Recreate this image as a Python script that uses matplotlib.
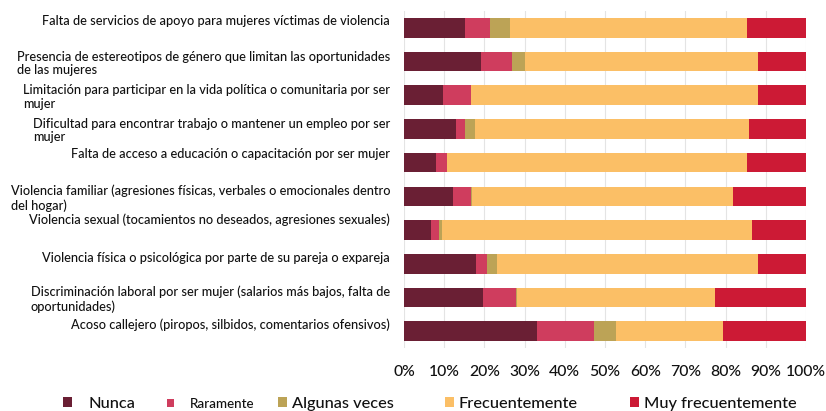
import matplotlib
matplotlib.use("Agg")
import matplotlib.pyplot as plt
from matplotlib.patches import Patch
from matplotlib.transforms import ScaledTranslation
import numpy as np

plt.rcParams['font.family'] = ['Lato', 'DejaVu Sans']
plt.rcParams['font.weight'] = 'medium'

categories = [
    "Falta de servicios de apoyo para mujeres víctimas de violencia",
    "Presencia de estereotipos de género que limitan las oportunidades\nde las mujeres",
    "Limitación para participar en la vida política o comunitaria por ser\nmujer",
    "Dificultad para encontrar trabajo o mantener un empleo por ser\nmujer",
    "Falta de acceso a educación o capacitación por ser mujer",
    "Violencia familiar (agresiones físicas, verbales o emocionales dentro\ndel hogar)",
    "Violencia sexual (tocamientos no deseados, agresiones sexuales)",
    "Violencia física o psicológica por parte de su pareja o expareja",
    "Discriminación laboral por ser mujer (salarios más bajos, falta de\noportunidades)",
    "Acoso callejero (piropos, silbidos, comentarios ofensivos)",
]

series_names = ["Nunca", "Raramente", "Algunas veces", "Frecuentemente", "Muy frecuentemente"]
nunca          = [15.1, 19.2,  9.7, 13.0,  8.0, 12.2,  6.6, 17.8, 19.7, 33.1]
raramente      = [ 6.2,  7.7,  6.9,  2.1,  2.8,  4.4,  2.1,  2.8,  8.1, 14.2]
algunas_veces  = [ 5.0,  3.3,  0.0,  2.6,  0.0,  0.3,  0.7,  2.6,  0.3,  5.5]
frecuentemente = [59.0, 57.8, 71.4, 68.2, 74.5, 65.0, 77.1, 64.8, 49.3, 26.5]
muy_frecuente  = [14.7, 12.0, 12.0, 14.1, 14.7, 18.1, 13.5, 12.0, 22.6, 20.7]
x_ticks = [0, 10, 20, 30, 40, 50, 60, 70, 80, 90, 100]
x_tick_labels = ["0%", "10%", "20%", "30%", "40%", "50%", "60%", "70%", "80%", "90%", "100%"]

colors = ["#6a1f34", "#cf3d5e", "#bca356", "#fbbf66", "#cc1a35"]
text_color = "#111111"

fig = plt.figure(figsize=(8.26, 4.11), dpi=100)
ax = fig.add_axes([404/826, 1 - 348/411, 402/826, 337/411])

y = np.arange(len(categories))
left = np.zeros(len(categories))
for vals, col, name in zip([nunca, raramente, algunas_veces, frecuentemente, muy_frecuente], colors, series_names):
    ax.barh(y, vals, left=left, height=0.58, color=col, label=name, zorder=3)
    left += np.array(vals)

ax.set_xlim(0, 100)
ax.set_ylim(len(categories) - 0.5, -0.5)
ax.set_xticks(x_ticks)
ax.set_xticklabels(x_tick_labels, fontsize=11.3, color=text_color)
ax.set_yticks(y)
ax.set_yticklabels(categories, fontsize=9.2, color=text_color, multialignment='left',
                   linespacing=1.15)
ax.tick_params(axis='both', length=0)
ax.tick_params(axis='y', pad=10)
ax.tick_params(axis='x', pad=12)
ax.grid(axis='x', color="#e4e4e4", linewidth=0.8, zorder=0)
for s in ax.spines.values():
    s.set_visible(False)

# single-line labels sit higher than the bar centre in the original
offsets_px = {0: 8, 4: 10, 6: 11, 7: 7, 9: 7}
for i, lab in enumerate(ax.get_yticklabels()):
    if i in offsets_px:
        lab.set_transform(lab.get_transform() + ScaledTranslation(0, offsets_px[i] / 100, fig.dpi_scale_trans))

# legend items placed individually
leg_x = [63, 167, 278, 445, 630]
leg_pad = [1.0, 1.2, 0.3, 0.3, 0.3]
leg_size = [11.8, 9.6, 11.8, 11.8, 11.8]
for name, col, lx, pad, fs in zip(series_names, colors, leg_x, leg_pad, leg_size):
    fig.legend(handles=[Patch(facecolor=col, edgecolor='none')], labels=[name],
               loc='center left', bbox_to_anchor=(lx / 826, 1 - 404 / 411),
               frameon=False, fontsize=fs, handlelength=0.55, handleheight=0.55,
               handletextpad=pad, borderpad=0, borderaxespad=0, labelcolor=text_color)

fig.savefig("out.png", dpi=100)
